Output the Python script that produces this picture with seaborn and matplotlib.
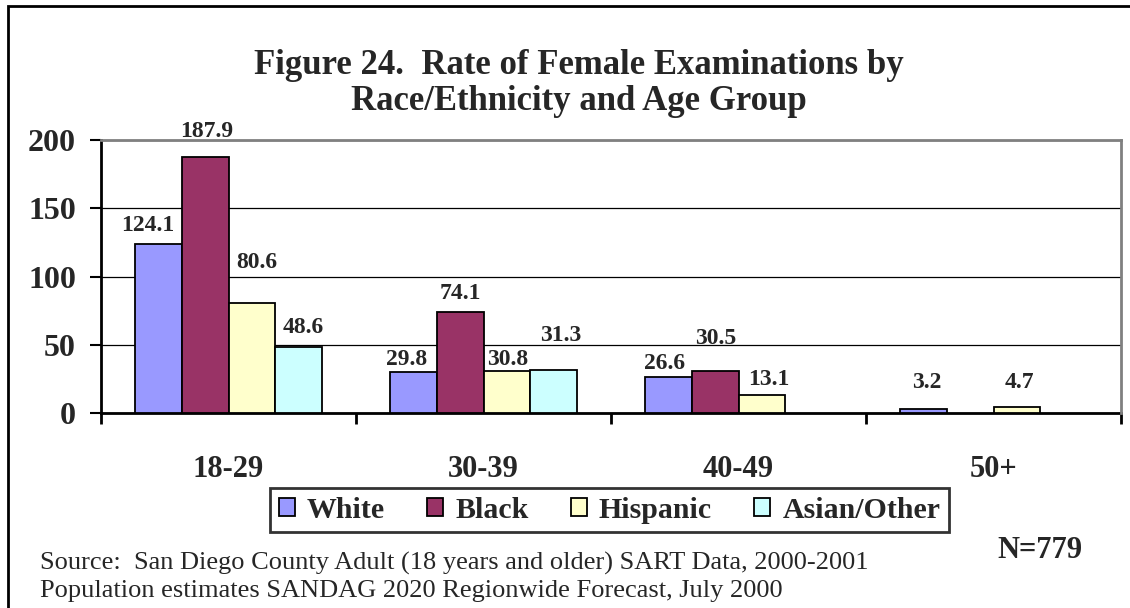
import matplotlib
matplotlib.use("Agg")
import matplotlib.pyplot as plt
import matplotlib.patches as mpatches
from matplotlib.ticker import FixedLocator
import seaborn as sns
import pandas as pd
import numpy as np

# ---- data ----
age_groups = ["18-29", "30-39", "40-49", "50+"]
races = ["White", "Black", "Hispanic", "Asian/Other"]
white = [124.1, 29.8, 26.6, 3.2]
black = [187.9, 74.1, 30.5, None]
hispanic = [80.6, 30.8, 13.1, 4.7]
asian_other = [48.6, 31.3, None, None]
y_ticks = [0, 50, 100, 150, 200]
title_lines = ["Figure 24.  Rate of Female Examinations by", "Race/Ethnicity and Age Group"]
source_lines = ["Source:  San Diego County Adult (18 years and older) SART Data, 2000-2001",
                "Population estimates SANDAG 2020 Regionwide Forecast, July 2000"]
n_note = "N=779"

# ---- style ----
colors = ["#9999FF", "#993366", "#FFFFCC", "#CCFFFF"]
# per-label nudges (pixels): (dx, dy above bar top to label centre)
label_offsets = {
    ("18-29", "White"): (-11, 18), ("18-29", "Black"): (1, 25),
    ("18-29", "Hispanic"): (5, 40), ("18-29", "Asian/Other"): (5, 19),
    ("30-39", "White"): (-7, 13), ("30-39", "Black"): (0, 18),
    ("30-39", "Hispanic"): (1, 11), ("30-39", "Asian/Other"): (7, 35),
    ("40-49", "White"): (-4, 13), ("40-49", "Black"): (0, 33),
    ("40-49", "Hispanic"): (7, 16),
    ("50+", "White"): (3, 26), ("50+", "Hispanic"): (3, 24),
}

rows = []
for race, vals in zip(races, [white, black, hispanic, asian_other]):
    for age, v in zip(age_groups, vals):
        if v is not None:
            rows.append({"Age": age, "Race": race, "Rate": v})
df = pd.DataFrame(rows)

sns.set_theme(style="white")
plt.rcParams["font.family"] = ["Liberation Serif", "DejaVu Serif"]

W, H = 1130, 608
fig = plt.figure(figsize=(W / 100, H / 100), dpi=100)
ax = fig.add_axes([101 / W, (H - 413) / H, (1121 - 101) / W, (413 - 140) / H])

group_w = 0.73
sns.barplot(data=df, x="Age", y="Rate", hue="Race", order=age_groups, hue_order=races,
            palette=colors, width=group_w, edgecolor="black", linewidth=1.3,
            saturation=1, ax=ax, legend=False, zorder=3)

ax.set_xlim(-0.5, len(age_groups) - 0.5)
ax.set_ylim(0, 200)
ax.set_yticks(y_ticks)
ax.set_yticklabels([str(t) for t in y_ticks], fontsize=23, fontweight="bold")
ax.set_xticks(range(len(age_groups)))
ax.set_xticklabels(age_groups, fontsize=22, fontweight="bold")
ax.tick_params(axis="x", which="major", length=0, pad=30)
ax.xaxis.set_minor_locator(FixedLocator(np.arange(-0.5, len(age_groups), 1.0)))
ax.tick_params(axis="x", which="minor", length=8, width=2, color="black", direction="out", bottom=True)
ax.tick_params(axis="y", length=8, width=1.5, color="black", direction="out", left=True, pad=10)
ax.set_xlabel("")
ax.set_ylabel("")

ax.set_axisbelow(True)
ax.yaxis.grid(True, color="black", linewidth=0.9)
ax.xaxis.grid(False)
for s in ["left", "bottom"]:
    ax.spines[s].set_color("black")
    ax.spines[s].set_linewidth(2)
for s in ["top", "right"]:
    ax.spines[s].set_color("#808080")
    ax.spines[s].set_linewidth(2)
    ax.spines[s].set_zorder(5)

bw = group_w / len(races)
for i, (race, vals) in enumerate(zip(races, [white, black, hispanic, asian_other])):
    for j, (age, v) in enumerate(zip(age_groups, vals)):
        if v is None:
            continue
        x = j + bw * (i - (len(races) - 1) / 2)
        dx, dy = label_offsets.get((age, race), (0, 15))
        ax.annotate(f"{v:.1f}", xy=(x, v), xytext=(dx, dy), textcoords="offset pixels",
                    ha="center", va="center", fontsize=17, fontweight="bold", zorder=6,
                    annotation_clip=False)

# title
fig.text(579 / W, 1 - 66 / H, title_lines[0], ha="center", va="center",
         fontsize=25, fontweight="bold")
fig.text(579 / W, 1 - 101 / H, title_lines[1], ha="center", va="center",
         fontsize=25, fontweight="bold")

# legend
handles = [mpatches.Patch(facecolor=c, edgecolor="black", linewidth=1.3, label=r)
           for c, r in zip(colors, races)]
leg = fig.legend(handles=handles, loc="center", bbox_to_anchor=(609.5 / W, 1 - 510 / H),
                 ncol=4, frameon=True, fancybox=False, prop={"size": 21.5, "weight": "bold"},
                 handlelength=0.55, handleheight=0.55, handletextpad=0.4,
                 columnspacing=1.4, borderpad=0.3)
leg.get_frame().set_edgecolor("black")
leg.get_frame().set_linewidth(2)

# source + N
fig.text(40 / W, 1 - 563 / H, source_lines[0], ha="left", va="center", fontsize=19)
fig.text(40 / W, 1 - 591 / H, source_lines[1], ha="left", va="center", fontsize=19)
fig.text(1040 / W, 1 - 550 / H, n_note, ha="center", va="center", fontsize=22, fontweight="bold")

# outer border (only left and top edges fall inside the image)
fig.patches.append(mpatches.Rectangle((8 / W, -0.2), 2.0, 1 - 6 / H + 0.2, transform=fig.transFigure,
                                      fill=False, edgecolor="black", linewidth=2, figure=fig))

fig.savefig("out.png", dpi=100)
